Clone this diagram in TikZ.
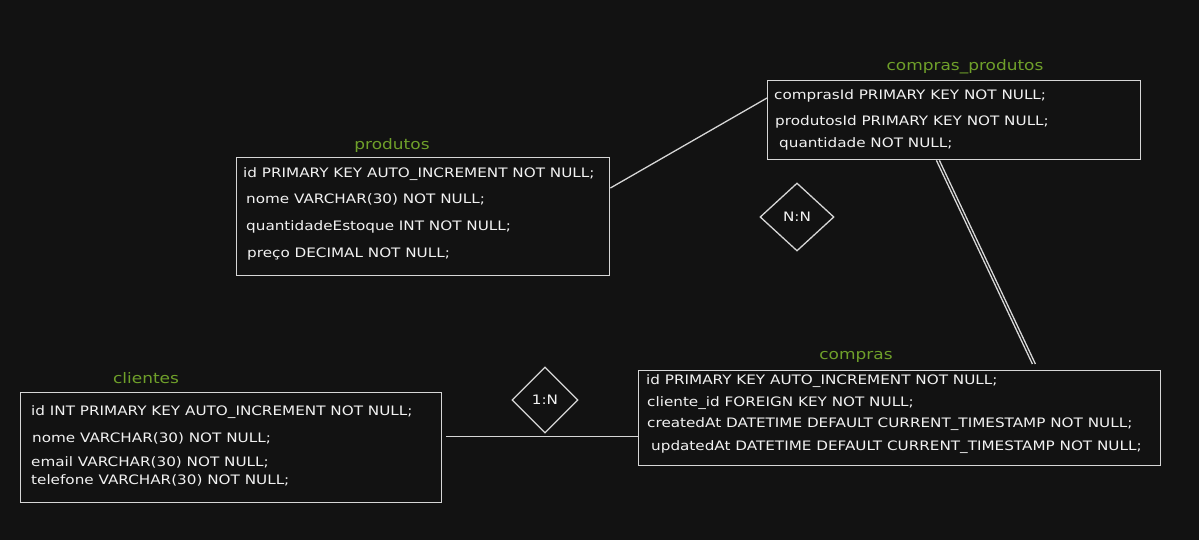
\documentclass[tikz,border=0pt]{standalone}
\usepackage{fontspec}
\setmainfont{DejaVu Sans}[FakeStretch=1.17]
\usetikzlibrary{shapes.geometric}
\definecolor{bg}{HTML}{121212}
\definecolor{ink}{HTML}{D6D6D6}
\definecolor{txt}{HTML}{F2F2F2}
\definecolor{ttl}{HTML}{6FA02A}
\tikzset{
  tbl/.style={draw=ink, line width=1.4pt, rectangle, inner sep=0pt, anchor=north west},
  row/.style={anchor=west, inner sep=0pt, text=txt, font=\fontsize{13}{15}\selectfont},
  ttlstyle/.style={text=ttl, inner sep=0pt, font=\fontsize{14.5}{16}\selectfont},
  rel/.style={draw=ink, line width=1.3pt, diamond, aspect=1, inner sep=0pt, text=txt, font=\fontsize{13}{15}\selectfont},
  conn/.style={draw=ink, line width=1.3pt}
}
\begin{document}
\begin{tikzpicture}[x=1pt,y=-1pt]
\fill[bg] (0,0) rectangle (1199,540);
\useasboundingbox (0,0) rectangle (1199,540);
% tables
\node[tbl, minimum width=373pt, minimum height=118pt] (prod) at (236,157) {};
\node[tbl, minimum width=373pt, minimum height=79pt] (cp) at (767,80) {};
\node[tbl, minimum width=421pt, minimum height=110pt] (cli) at (20,392) {};
\node[tbl, minimum width=522pt, minimum height=95pt] (comp) at (638,370) {};
% titles
\node[ttlstyle] (tprod) at (392,146) {produtos};
\node[ttlstyle] (tcp) at (965,67) {compras\_produtos};
\node[ttlstyle] (tcli) at (146,378) {clientes};
\node[ttlstyle] (tcomp) at (856,357) {compras};
% produtos rows
\node[row] (p1) at (243,174) {id PRIMARY KEY AUTO\_INCREMENT NOT NULL;};
\node[row] (p2) at (246,199) {nome VARCHAR(30) NOT NULL;};
\node[row] (p3) at (246,227) {quantidadeEstoque INT NOT NULL;};
\node[row] (p4) at (247,254) {preço DECIMAL NOT NULL;};
% compras_produtos rows
\node[row] (c1) at (774,96) {comprasId PRIMARY KEY NOT NULL;};
\node[row] (c2) at (775,122) {produtosId PRIMARY KEY NOT NULL;};
\node[row] (c3) at (779,144) {quantidade NOT NULL;};
% clientes rows
\node[row] (l1) at (31,412) {id INT PRIMARY KEY AUTO\_INCREMENT NOT NULL;};
\node[row] (l2) at (32,438) {nome VARCHAR(30) NOT NULL;};
\node[row] (l3) at (31,462) {email VARCHAR(30) NOT NULL;};
\node[row] (l4) at (31,480) {telefone VARCHAR(30) NOT NULL;};
% compras rows
\node[row] (m1) at (646,381) {id PRIMARY KEY AUTO\_INCREMENT NOT NULL;};
\node[row] (m2) at (647,403) {cliente\_id FOREIGN KEY NOT NULL;};
\node[row] (m3) at (647,424) {createdAt DATETIME DEFAULT CURRENT\_TIMESTAMP NOT NULL;};
\node[row] (m4) at (651,447) {updatedAt DATETIME DEFAULT CURRENT\_TIMESTAMP NOT NULL;};
% relationship diamonds
\node[rel, minimum width=74pt, minimum height=68pt] (nn) at (797,217) {N:N};
\node[rel, minimum width=66pt, minimum height=66pt] (on) at (545,400) {1:N};
% connectors
\draw[conn] ([yshift=-31pt]prod.north east) -- ([yshift=-18pt]cp.north west);
\coordinate (cpb) at ([xshift=-205pt]cp.south east);
\coordinate (compt) at ([xshift=-129pt,yshift=6pt]comp.north east);
\draw[conn] (cpb) -- (compt);
\draw[conn] ([xshift=3pt]cpb) -- ([xshift=3pt]compt);
\draw[conn] ([xshift=4pt,yshift=11pt]cli.east) -- ([yshift=-18.5pt]comp.west);
\end{tikzpicture}
\end{document}
